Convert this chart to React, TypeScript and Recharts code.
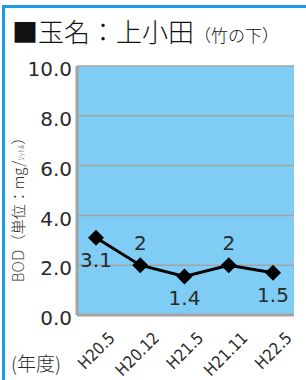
import { LineChart, Line, XAxis, YAxis, CartesianGrid, LabelList } from "recharts";

const categories = ["H20.5", "H20.12", "H21.5", "H21.11", "H22.5"];
// marker heights as drawn in the picture
const bodValues = [3.1, 2.0, 1.55, 2.0, 1.7];
// data labels as printed
const labelTexts = ["3.1", "2", "1.4", "2", "1.5"];
const labelSides = ["below", "above", "below", "above", "below"];
const yTicks = [0, 2, 4, 6, 8, 10];

const data = categories.map((c, i) => ({
  cat: c,
  bod: bodValues[i],
  label: labelTexts[i],
}));

const numFont = "'DejaVu Sans', sans-serif";
const jpFont = "'Noto Sans CJK JP', sans-serif";
const border = "#a3a3a3";
const ink = "#2a2a2a";

function Diamond(props: any) {
  const { cx, cy } = props;
  if (cx == null || cy == null) return null;
  const r = 8;
  return (
    <polygon
      points={`${cx},${cy - r} ${cx + r},${cy} ${cx},${cy + r} ${cx - r},${cy}`}
      fill="#000"
    />
  );
}

function XTick(props: any) {
  const { x, y, payload } = props;
  const ax = x + 20;
  const ay = y + 16;
  return (
    <text
      x={ax}
      y={ay}
      transform={`rotate(-45, ${ax}, ${ay})`}
      textAnchor="end"
      fontSize={16.5}
      fontFamily={numFont}
      style={{ fontStretch: "condensed" }}
      fill={ink}
    >
      {payload.value}
    </text>
  );
}

function renderLabel(props: any) {
  const { x, y, index } = props;
  const below = labelSides[index] === "below";
  return (
    <text
      x={x}
      y={below ? y + 22 : y - 22}
      textAnchor="middle"
      dominantBaseline="central"
      fontSize={20}
      fontFamily={numFont}
      fill={ink}
    >
      {labelTexts[index]}
    </text>
  );
}

export default function App() {
  return (
    <div
      style={{
        position: "absolute",
        left: 0,
        top: 0,
        width: 306,
        height: 380,
        background: "#fff",
        overflow: "hidden",
      }}
    >
      <div
        style={{
          position: "absolute",
          left: 2,
          top: 5,
          width: 320,
          height: 400,
          borderTop: "3px solid #1e9be6",
          borderLeft: "3px solid #1e9be6",
        }}
      />
      <div
        style={{
          position: "absolute",
          left: 12,
          top: 16,
          whiteSpace: "nowrap",
          fontFamily: jpFont,
          fontWeight: 300,
          color: "#111",
          lineHeight: "30px",
        }}
      >
        <span style={{ fontSize: 26 }}>■玉名：上小田</span>
        <span style={{ fontSize: 17 }}>（竹の下）</span>
      </div>
      <div
        style={{
          position: "absolute",
          left: 19,
          top: 206,
          transform: "translate(-50%, -50%) rotate(-90deg)",
          whiteSpace: "nowrap",
          fontFamily: jpFont,
          fontWeight: 300,
          fontSize: 15,
          color: ink,
          lineHeight: "16px",
        }}
      >
        <span style={{ fontFamily: numFont, fontSize: 15 }}>BOD</span>
        <span>（単位：mg/</span>
        <span style={{ fontSize: 8 }}>ﾘｯﾄﾙ</span>
        <span>）</span>
      </div>
      <div
        style={{
          position: "absolute",
          left: 11,
          top: 351,
          whiteSpace: "nowrap",
          fontFamily: jpFont,
          fontWeight: 300,
          fontSize: 19,
          color: ink,
          lineHeight: "24px",
        }}
      >
        (年度)
      </div>
      <div style={{ position: "absolute", left: 0, top: 0 }}>
        <LineChart
          width={306}
          height={380}
          data={data}
          margin={{ top: 66, right: 12, bottom: 15, left: 0 }}
          style={{ overflow: "visible" }}
        >
          <CartesianGrid
            vertical={false}
            stroke={border}
            strokeWidth={1.5}
            fill="#7fcdf4"
            fillOpacity={1}
          />
          <XAxis
            dataKey="cat"
            height={50}
            interval={0}
            padding={{ left: 19, right: 21 }}
            axisLine={{ stroke: border, strokeWidth: 3 }}
            tickLine={false}
            tick={<XTick />}
          />
          <XAxis
            xAxisId="top"
            dataKey="cat"
            orientation="top"
            height={0}
            tick={false}
            tickLine={false}
            axisLine={{ stroke: border, strokeWidth: 3 }}
          />
          <YAxis
            width={77}
            domain={[0, 10]}
            ticks={yTicks}
            interval={0}
            tickFormatter={(v: number) => v.toFixed(1)}
            axisLine={{ stroke: border, strokeWidth: 3 }}
            tickLine={false}
            tickSize={3}
            tickMargin={2}
            tick={{ fontSize: 20, fill: ink, fontFamily: numFont, dy: 3 }}
          />
          <YAxis
            yAxisId="right"
            orientation="right"
            width={0}
            domain={[0, 10]}
            tick={false}
            tickLine={false}
            axisLine={{ stroke: border, strokeWidth: 3 }}
          />
          <Line
            dataKey="bod"
            stroke="#000"
            strokeWidth={3}
            dot={<Diamond />}
            activeDot={false}
            isAnimationActive={false}
          >
            <LabelList dataKey="label" content={renderLabel} />
          </Line>
        </LineChart>
      </div>
    </div>
  );
}
